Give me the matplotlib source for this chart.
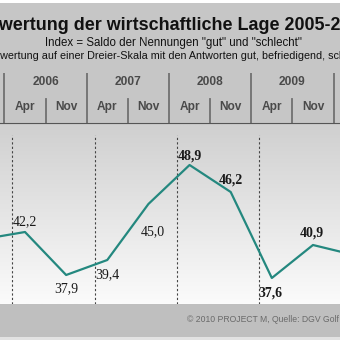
import numpy as np
import matplotlib.pyplot as plt
from matplotlib.patches import Rectangle
from matplotlib.colors import LinearSegmentedColormap

plt.rcParams['font.family'] = ['Liberation Sans', 'DejaVu Sans']

# survey waves (Nov 2005 and Apr 2010 lie just outside the visible crop)
months = ['Nov', 'Apr', 'Nov', 'Apr', 'Nov', 'Apr', 'Nov', 'Apr', 'Nov', 'Apr']
month_years = ['2005', '2006', '2006', '2007', '2007', '2008', '2008', '2009', '2009', '2010']
values = [41.5, 42.2, 37.9, 39.4, 45.0, 48.9, 46.2, 37.6, 40.9, 39.9]
years = ['2005', '2006', '2007', '2008', '2009', '2010']

title = 'Bewertung der wirtschaftliche Lage 2005-2010'
subtitle = 'Index = Saldo der Nennungen "gut" und "schlecht"'
subtitle2 = 'Bewertung auf einer Dreier-Skala mit den Antworten gut, befriedigend, schlecht'
footer = '\u00a9 2010 PROJECT M, Quelle: DGV Golf'

# label offsets in pixels (dx, dy) and weights
label_off = [(0, 12), (0, 10), (0, -14), (0, -15), (4, -28), (0, 9), (0, 12), (-1, -15), (-1, 12), (0, 12)]
label_bold = [False, False, False, False, False, True, True, True, True, False]

W, H = 340, 340
line_col = '#24887f'


def fy(py):
    return 1 - py / H


x = np.arange(len(values))
xlim = (1 - 25 / 41.14, 1 + 315 / 41.14)

fig = plt.figure(figsize=(W / 100, H / 100), dpi=100, facecolor='#c6c6c6')

# white strip on top, footer band
fig.patches.append(Rectangle((0, fy(3)), 1, 3 / H, transform=fig.transFigure,
                             facecolor='white', edgecolor='none', zorder=0))
fig.patches.append(Rectangle((0, fy(337)), 1, 33 / H, transform=fig.transFigure,
                             facecolor='#bfbfbf', edgecolor='none', zorder=0))
fig.patches.append(Rectangle((0, 0), 1, fy(337), transform=fig.transFigure,
                             facecolor='#e2e2e2', edgecolor='none', zorder=0))

# titles
fig.text(-24 / W, fy(26), title, ha='left', va='center', fontsize=12.9,
         fontweight='bold', color='#111111')
fig.text(173 / W, fy(43), subtitle, ha='center', va='center', fontsize=8.3, color='#111111')
fig.text(-13 / W, fy(56), subtitle2, ha='left', va='center', fontsize=7.75, color='#111111')
fig.text(187 / W, fy(320), footer, ha='left', va='center', fontsize=6.2, color='#6a6a6a')

# header with years / months
hax = fig.add_axes([0, fy(124), 1, 51 / H])
hax.set_xlim(xlim)
hax.set_ylim(0, 2)
hax.axis('off')
for i, (m, yr) in enumerate(zip(months, month_years)):
    hax.text(x[i], 0.68, m, ha='center', va='center', fontsize=8.6, color='#4a4a4a',
             fontweight='bold')
    if m == 'Apr':
        hax.plot([x[i] - 0.5, x[i] - 0.5], [0, 2], color='#707070', lw=1.3)
        hax.plot([x[i] + 0.5, x[i] + 0.5], [0, 1], color='#707070', lw=1.3)
for yr in years:
    idx = [i for i, y in enumerate(month_years) if y == yr]
    hax.text(np.mean(x[idx]), 1.63, yr, ha='center', va='center', fontsize=8.6,
             color='#4a4a4a', fontweight='bold')
hax.axhline(0, color='#555555', lw=1.5)

# main plot area
ax = fig.add_axes([0, fy(304), 1, 179 / H])
ax.set_xlim(xlim)
ax.set_ylim(35.0, 52.9)
ax.axis('off')

cmap = LinearSegmentedColormap.from_list('bg', ['#d0d0d0', '#fbfbfb'])
ax.imshow(np.linspace(0, 1, 100).reshape(-1, 1), cmap=cmap, aspect='auto',
          extent=[xlim[0], xlim[1], 35.0, 52.9], origin='upper', zorder=0)

for i, m in enumerate(months):
    if m == 'Nov':
        ax.plot([x[i] + 0.69, x[i] + 0.69], [35.0, 51.9], color='#444444', lw=0.8,
                ls=(0, (2, 2)), zorder=1)

ax.plot(x, values, color=line_col, lw=1.6, zorder=3)

for i, v in enumerate(values):
    ax.annotate(('%.1f' % v).replace('.', ','), (x[i], v), xytext=label_off[i],
                textcoords='offset pixels', ha='center', va='center',
                fontsize=10, family='Liberation Serif', color='#1a1a1a',
                fontweight='bold' if label_bold[i] else 'normal', zorder=4)

fig.savefig('out.png', dpi=100, facecolor=fig.get_facecolor())
